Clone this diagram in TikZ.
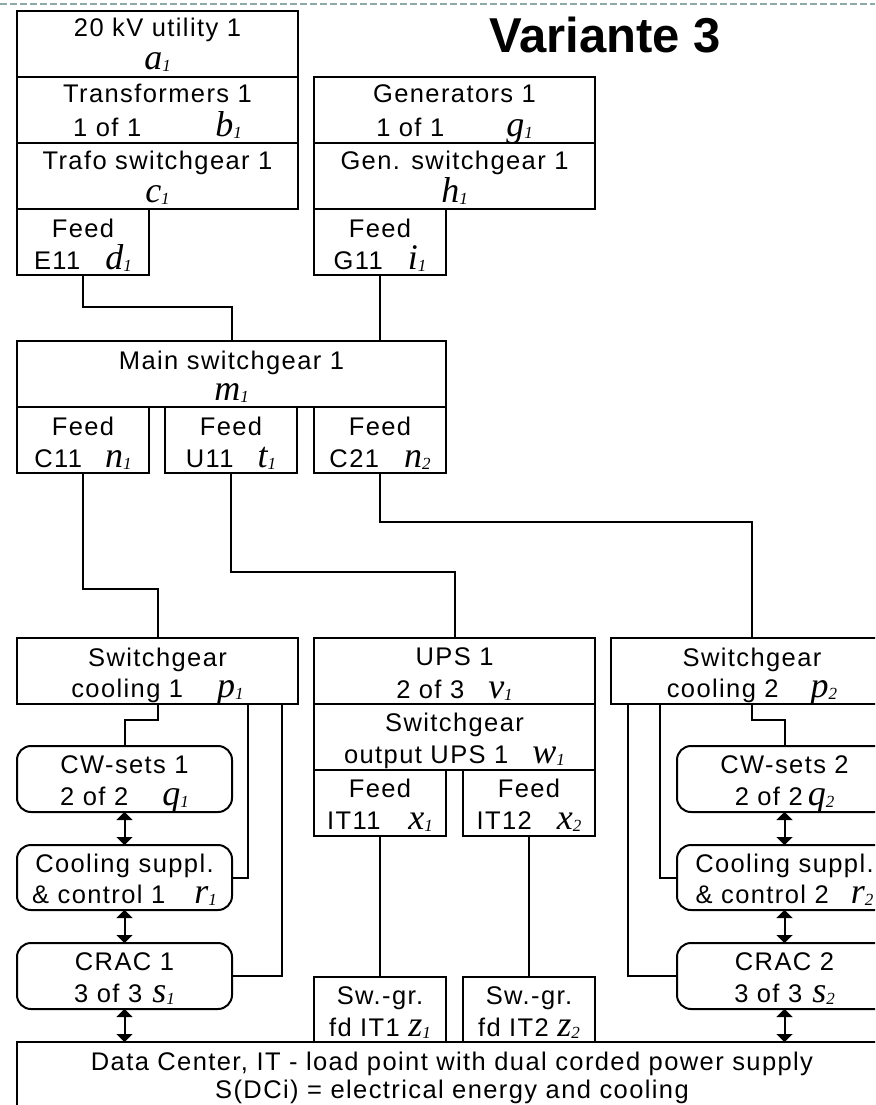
\documentclass[tikz,border=0pt]{standalone}
\usepackage{fontspec}
\setmainfont{Liberation Sans}[LetterSpace=5.5]
\newfontfamily\titlefont{Liberation Sans}
\newfontfamily\mfont{Liberation Serif}
\usetikzlibrary{arrows.meta,calc}
\definecolor{dashcol}{HTML}{8FA8A8}
\newcommand\mvar[2]{{\mfont\itshape\fontsize{36}{36}\selectfont #1\raisebox{-2pt}{\fontsize{17}{17}\selectfont #2}}}
\newcommand\tbx[5]{%
  \node[tx] (#1-a) at ($(#1.north)+(0,#4)$) {#2};
  \node[tx] (#1-b) at ($(#1.north)+(0,#5)$) {#3};}
\tikzset{
  bx/.style={draw, line width=2pt, inner sep=0pt, outer sep=0pt},
  rbx/.style={bx, rounded corners=14pt},
  tx/.style={inner sep=0pt, anchor=base, font=\fontsize{25.5}{25.5}\selectfont},
  ln/.style={line width=2pt},
  dar/.style={line width=2pt, {Triangle[width=16pt,length=8pt]}-{Triangle[width=16pt,length=8pt]}},
}
\begin{document}
\begin{tikzpicture}[x=1pt,y=-1pt]
\useasboundingbox (0,0) rectangle (875,1105);
\clip (0,0) rectangle (875,1105);
\draw[dashcol, line width=2pt, dash pattern=on 7pt off 3pt] (0,4) -- (875,4);
\node[anchor=base, inner sep=0pt, font=\titlefont\bfseries\fontsize{49}{49}\selectfont] (title) at (605,53) {Variante 3};
% boxes
\node[bx, minimum width=281pt, minimum height=66pt] (a1) at (157.5,44) {};
\node[bx, minimum width=281pt, minimum height=66pt] (b1) at (157.5,110) {};
\node[bx, minimum width=281pt, minimum height=66pt] (c1) at (157.5,176) {};
\node[bx, minimum width=132pt, minimum height=66pt] (d1) at (83,242) {};
\node[bx, minimum width=281pt, minimum height=66pt] (g1) at (454.5,110) {};
\node[bx, minimum width=281pt, minimum height=66pt] (h1) at (454.5,176) {};
\node[bx, minimum width=132pt, minimum height=66pt] (i1) at (380,242) {};
\node[bx, minimum width=429pt, minimum height=66pt] (m1) at (231.5,374) {};
\node[bx, minimum width=132pt, minimum height=66pt] (n1) at (83,440) {};
\node[bx, minimum width=132pt, minimum height=66pt] (t1) at (231,440) {};
\node[bx, minimum width=132pt, minimum height=66pt] (n2) at (380,440) {};
\node[bx, minimum width=281pt, minimum height=66pt] (p1) at (157.5,671) {};
\node[bx, minimum width=281pt, minimum height=66pt] (v1) at (454.5,671) {};
\node[bx, minimum width=281pt, minimum height=66pt] (w1) at (454.5,737) {};
\node[bx, minimum width=132pt, minimum height=66pt] (x1) at (380,803) {};
\node[bx, minimum width=132pt, minimum height=66pt] (x2) at (529,803) {};
\node[bx, minimum width=132pt, minimum height=65pt] (z1) at (380,1009.5) {};
\node[bx, minimum width=132pt, minimum height=65pt] (z2) at (529,1009.5) {};
\node[bx, minimum width=282pt, minimum height=66pt] (p2) at (752,671) {};
\node[rbx, minimum width=215pt, minimum height=66pt] (q1) at (124.5,779) {};
\node[rbx, minimum width=215pt, minimum height=65pt] (r1) at (124.5,877.5) {};
\node[rbx, minimum width=215pt, minimum height=66pt] (s1) at (124.5,976) {};
\node[rbx, minimum width=215pt, minimum height=66pt] (q2) at (784.5,779) {};
\node[rbx, minimum width=215pt, minimum height=65pt] (r2) at (784.5,877.5) {};
\node[rbx, minimum width=215pt, minimum height=66pt] (s2) at (784.5,976) {};
\node[bx, minimum width=870pt, minimum height=72pt] (dc) at (452,1078) {};
% texts
\tbx{a1}{20 kV utility 1}{\mvar{a}{1}}{26}{59}
\tbx{b1}{Transformers 1}{1 of 1\hspace{74pt}\mvar{b}{1}}{26}{59}
\tbx{c1}{Trafo switchgear 1}{\mvar{c}{1}}{26}{59}
\tbx{d1}{Feed}{E11\hspace{25pt}\mvar{d}{1}}{28}{60}
\tbx{g1}{Generators 1}{1 of 1\hspace{62pt}\mvar{g}{1}}{26}{59}
\tbx{h1}{Gen. switchgear 1}{\mvar{h}{1}}{26}{59}
\tbx{i1}{Feed}{G11\hspace{25pt}\mvar{i}{1}}{28}{60}
\tbx{m1}{Main switchgear 1}{\mvar{m}{1}}{28}{59}
\tbx{n1}{Feed}{C11\hspace{23pt}\mvar{n}{1}}{28}{60}
\tbx{t1}{Feed}{U11\hspace{24pt}\mvar{t}{1}}{28}{60}
\tbx{n2}{Feed}{C21\hspace{25pt}\mvar{n}{2}}{28}{60}
\tbx{p1}{Switchgear}{cooling 1\hspace{34pt}\mvar{p}{1}}{28}{59}
\tbx{v1}{UPS 1}{2 of 3\hspace{24pt}\mvar{v}{1}}{27}{60}
\tbx{w1}{Switchgear}{output UPS 1\hspace{24pt}\mvar{w}{1}}{27}{59}
\tbx{x1}{Feed}{IT11\hspace{28pt}\mvar{x}{1}}{27}{59}
\tbx{x2}{Feed}{IT12\hspace{25pt}\mvar{x}{2}}{27}{59}
\tbx{z1}{Sw.-gr.}{fd IT1 \mvar{z}{1}}{27}{59}
\tbx{z2}{Sw.-gr.}{fd IT2 \mvar{z}{2}}{27}{59}
\tbx{p2}{Switchgear}{cooling 2\hspace{32pt}\mvar{p}{2}}{28}{59}
\tbx{q1}{CW-sets 1}{2 of 2\hspace{34pt}\mvar{q}{1}}{27}{59}
\tbx{r1}{Cooling suppl.}{\& control 1\hspace{29pt}\mvar{r}{1}}{27}{58}
\tbx{s1}{CRAC 1}{3 of 3\hspace{10pt}\mvar{s}{1}}{27}{59}
\tbx{q2}{CW-sets 2}{2 of 2\hspace{5pt}\mvar{q}{2}}{27}{59}
\tbx{r2}{Cooling suppl.}{\& control 2\hspace{22pt}\mvar{r}{2}}{27}{58}
\tbx{s2}{CRAC 2}{3 of 3\hspace{10pt}\mvar{s}{2}}{27}{59}
\tbx{dc}{Data Center, IT - load point with dual corded power supply}{S(DCi) = electrical energy and cooling}{28}{56}
% connectors
\draw[ln] (d1.south) -- ++(0,32) -| (m1.north);
\draw[ln] (i1.south) -- (i1.south |- m1.north);
\draw[ln] (n1.south) -- ++(0,116) -| (p1.north);
\draw[ln] (t1.south) -- ++(0,99) -| (v1.north);
\draw[ln] (n2.south) -- ++(0,49) -| (p2.north);
\draw[ln] (p1.south) -- ++(0,16) -| (q1.north);
\draw[ln] (r1.east) -| ($(p1.south east)+(-50,0)$);
\draw[ln] (s1.east) -| ($(p1.south east)+(-16,0)$);
\draw[ln] (p2.south) -- ++(0,16) -| (q2.north);
\draw[ln] (r2.west) -| ($(p2.south west)+(49,0)$);
\draw[ln] (s2.west) -| ($(p2.south west)+(17,0)$);
\draw[ln] (x1.south) -- (z1.north);
\draw[ln] (x2.south) -- (z2.north);
\draw[dar] (q1.south) -- (r1.north);
\draw[dar] (r1.south) -- (s1.north);
\draw[dar] (s1.south) -- (s1.south |- dc.north);
\draw[dar] (q2.south) -- (r2.north);
\draw[dar] (r2.south) -- (s2.north);
\draw[dar] (s2.south) -- (s2.south |- dc.north);
\end{tikzpicture}
\end{document}
